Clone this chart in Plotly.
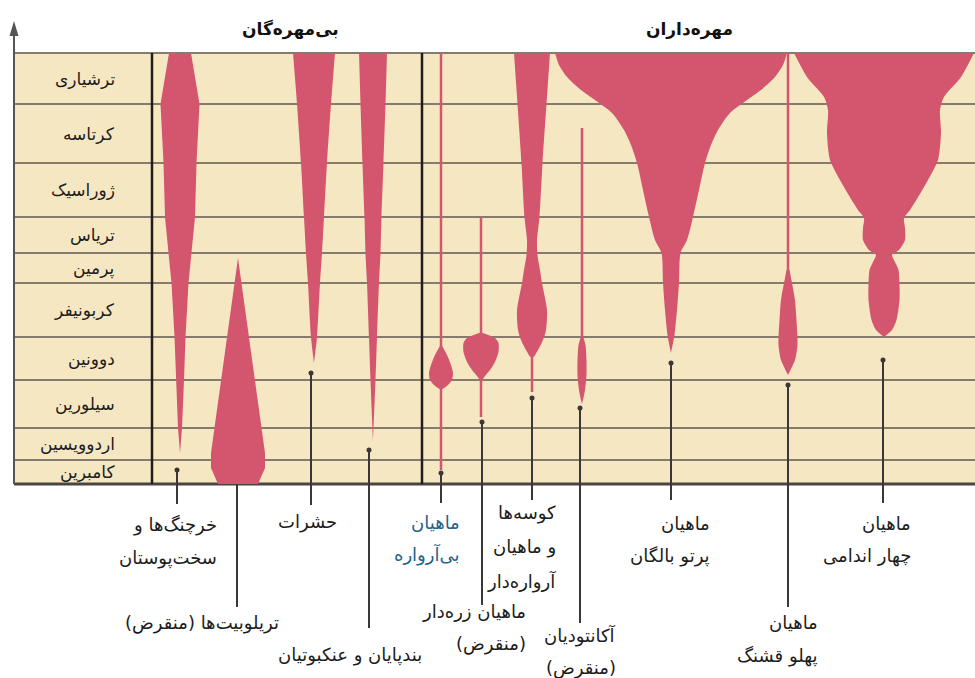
import plotly.graph_objects as go

# ---------------------------------------------------------------------------
# Geological column (youngest at top). Levels are in diagram units, measured
# downward from the top of the figure.
# ---------------------------------------------------------------------------
periods = ["ترشیاری", "کرتاسه", "ژوراسیک", "تریاس", "پرمین",
           "کربونیفر", "دوونین", "سیلورین", "اردوویسین", "کامبرین"]
boundaries = [53, 104, 163, 217, 253, 283, 337, 380, 428, 460, 484]

# ---------------------------------------------------------------------------
# Spindles: relative diversity (half width) of each group at given levels
# ---------------------------------------------------------------------------
crust_x = 180
crust_lv = [53, 104, 163, 217, 253, 283, 337, 380, 428, 453]
crust_w = [11, 19.5, 16.5, 15, 11.5, 8.5, 5.5, 4, 2, 0]

trilo_x = 238
trilo_lv = [258, 453, 468, 484]
trilo_w = [0, 27, 27, 20]

insect_x = 314
insect_lv = [53, 104, 163, 217, 253, 283, 337, 363]
insect_w = [21, 17, 13, 10, 8, 6, 3, 0]

arthro_x = 373
arthro_lv = [53, 104, 163, 217, 253, 283, 337, 380, 440]
arthro_w = [14, 12.5, 10.5, 8.5, 7.5, 6, 4, 2.5, 0]

jawless_x = 441
jawless_lv = [345, 355, 365, 373, 380, 385, 389]
jawless_w = [0.5, 6, 10, 12, 11, 7, 1.5]
jawless_stems = [(53, 347), (387, 470)]

placo_x = 481
placo_lv = [333, 338, 343, 352, 362, 370, 376, 380]
placo_w = [2, 14, 17.5, 17.5, 14, 9, 4, 1]
placo_stems = [(217, 335), (378, 417)]

shark_x = 532
shark_lv = [53, 104, 163, 217, 240, 255, 270, 283, 310, 330, 340, 350, 357]
shark_w = [18, 14.5, 10.5, 7.5, 5, 5.5, 8, 10, 15, 14, 11, 6, 1.5]
shark_stems = [(355, 392)]

acanth_x = 582
acanth_lv = [338, 345, 360, 375, 390, 400, 404]
acanth_w = [1.5, 3.5, 4.5, 4.5, 3, 1, 0]
acanth_stems = [(128, 340)]

ray_x = 671
ray_lv = [53, 65, 77, 90, 100, 113, 130, 145, 163, 190, 217, 240, 253, 283, 310, 335, 353]
ray_w = [116, 112, 104, 90, 76, 59, 47, 40, 34, 28, 22, 16, 9.5, 8, 6, 3.5, 0]

lobe_x = 788
lobe_lv = [270, 283, 300, 320, 345, 360, 375]
lobe_w = [1.5, 4, 7, 8.5, 9.5, 7, 0]
lobe_stems = [(53, 273)]

tetra_x = 884
tetra_lv = [53, 77, 97, 110, 133, 160, 187, 210, 218, 228, 240, 250, 255,
            262, 270, 285, 300, 320, 330, 337]
tetra_w = [90, 77, 60, 56, 57, 54, 40, 26, 20, 21, 21, 15, 8,
           11, 14.5, 15.5, 15.5, 12.5, 8, 0]

# ---------------------------------------------------------------------------
# Leader lines from each group to its name: x, top, bottom, with end dot
# ---------------------------------------------------------------------------
leader_x = [177, 237, 311, 369, 441, 482, 532, 580, 671, 788, 883]
leader_top = [470, 484, 373, 450, 473, 422, 398, 408, 363, 385, 360]
leader_bottom = [504, 607, 505, 628, 503, 605, 500, 623, 500, 607, 503]
leader_dot = [True, False, True, True, True, True, True, True, True, True, True]

group_names = [
    ["خرچنگ‌ها و", "سخت‌پوستان"],
    ["\u200fتریلوبیت‌ها (منقرض)\u200f"],
    ["حشرات"],
    ["بندپایان و عنکبوتیان"],
    ["ماهیان", "بی‌آرواره"],
    ["ماهیان زره‌دار", "\u200f(منقرض)\u200f"],
    ["کوسه‌ها", "و ماهیان", "آرواره‌دار"],
    ["آکانتودیان", "\u200f(منقرض)\u200f"],
    ["ماهیان", "پرتو بالگان"],
    ["ماهیان", "پهلو قشنگ"],
    ["ماهیان", "چهار اندامی"],
]

group_titles = ["بی‌مهره‌گان", "مهره‌داران"]

# ---------------------------------------------------------------------------
# Styling
# ---------------------------------------------------------------------------
FONT = "DejaVu Sans"
BEIGE = "#f6e7c3"
RED = "#d3566e"
GRID = "#867c6e"
INK = "#1c1c1c"
LEADER = "#3a3836"
BLUE = "#23648a"

# label placement: right edge x, first-line y, line spacing, colour
label_pos = [
    (219, 525, 33, INK),
    (281, 623, 33, INK),
    (339, 522, 33, INK),
    (424, 655, 33, INK),
    (462, 522, 32, BLUE),
    (528, 611, 33, INK),
    (558, 513, 34, INK),
    (618, 635, 33, INK),
    (712, 523, 33, INK),
    (820, 622, 34, INK),
    (913, 523, 33, INK),
]

fig = go.Figure()


def spindle(cx, lv, w, smooth=True):
    xs = [cx - v for v in w] + [cx + v for v in reversed(w)]
    ys = list(lv) + list(reversed(lv))
    fig.add_trace(go.Scatter(
        x=xs, y=ys, mode="lines", fill="toself", fillcolor=RED,
        line=dict(width=0, color=RED, shape="spline" if smooth else "linear",
                  smoothing=0.7),
        hoverinfo="skip"))


def stems(cx, segs, width=2.5):
    for a, b in segs:
        fig.add_trace(go.Scatter(
            x=[cx, cx], y=[a, b], mode="lines",
            line=dict(color=RED, width=width), hoverinfo="skip"))


# stems first so the spindle bodies cover their ends
stems(jawless_x, jawless_stems)
stems(placo_x, placo_stems)
stems(shark_x, shark_stems)
stems(acanth_x, acanth_stems)
stems(lobe_x, lobe_stems)

spindle(crust_x, crust_lv, crust_w, smooth=False)
spindle(trilo_x, trilo_lv, trilo_w, smooth=False)
spindle(insect_x, insect_lv, insect_w)
spindle(arthro_x, arthro_lv, arthro_w)
spindle(jawless_x, jawless_lv, jawless_w)
spindle(placo_x, placo_lv, placo_w)
spindle(shark_x, shark_lv, shark_w)
spindle(acanth_x, acanth_lv, acanth_w)
spindle(ray_x, ray_lv, ray_w)
spindle(lobe_x, lobe_lv, lobe_w)
spindle(tetra_x, tetra_lv, tetra_w)

# leader lines
for x, t, b, d in zip(leader_x, leader_top, leader_bottom, leader_dot):
    fig.add_trace(go.Scatter(x=[x, x], y=[t, b], mode="lines",
                             line=dict(color=LEADER, width=2), hoverinfo="skip"))
    if d:
        fig.add_trace(go.Scatter(x=[x], y=[t], mode="markers",
                                 marker=dict(color=LEADER, size=5), hoverinfo="skip"))

# background column, period grid, dividers, axis arrow
top, bottom = boundaries[0], boundaries[-1]
shapes = [dict(type="rect", x0=14, x1=975, y0=top, y1=bottom,
               fillcolor=BEIGE, line_width=0, layer="below")]
for b in boundaries[:-1]:
    shapes.append(dict(type="line", x0=14, x1=975, y0=b, y1=b,
                       line=dict(color=GRID, width=2), layer="below"))
shapes.append(dict(type="line", x0=14, x1=975, y0=bottom, y1=bottom,
                   line=dict(color="#4a4540", width=3), layer="below"))
for xd in (152, 422):
    shapes.append(dict(type="line", x0=xd, x1=xd, y0=top, y1=bottom,
                       line=dict(color="#1e1e1e", width=2.5), layer="below"))
shapes.append(dict(type="line", x0=14, x1=14, y0=bottom, y1=34,
                   line=dict(color="#555", width=2), layer="below"))
shapes.append(dict(type="path", path="M 9.5 36 L 14 21 L 18.5 36 Z",
                   fillcolor="#555", line_width=0, layer="below"))

annotations = []
for name, a, b in zip(periods, boundaries[:-1], boundaries[1:]):
    annotations.append(dict(x=117, y=(a + b) / 2, text=name, showarrow=False,
                            xanchor="right", yanchor="middle",
                            font=dict(family=FONT, size=17, color=INK)))

for lines, (xr, y0, dy, col) in zip(group_names, label_pos):
    for i, line in enumerate(lines):
        annotations.append(dict(x=xr, y=y0 + i * dy, text=line, showarrow=False,
                                xanchor="right", yanchor="middle",
                                font=dict(family=FONT, size=18, color=col)))

annotations.append(dict(x=290, y=29, text="<b>" + group_titles[0] + "</b>",
                        showarrow=False, xanchor="center", yanchor="middle",
                        font=dict(family=FONT, size=17, color="#111")))
annotations.append(dict(x=689, y=29, text="<b>" + group_titles[1] + "</b>",
                        showarrow=False, xanchor="center", yanchor="middle",
                        font=dict(family=FONT, size=17, color="#111")))

fig.update_layout(
    width=975, height=678,
    margin=dict(l=0, r=0, t=0, b=0),
    paper_bgcolor="white", plot_bgcolor="white",
    showlegend=False,
    xaxis=dict(range=[0, 975], visible=False, fixedrange=True),
    yaxis=dict(range=[678, 0], visible=False, fixedrange=True),
    shapes=shapes, annotations=annotations,
)

fig.write_html("out.html")
